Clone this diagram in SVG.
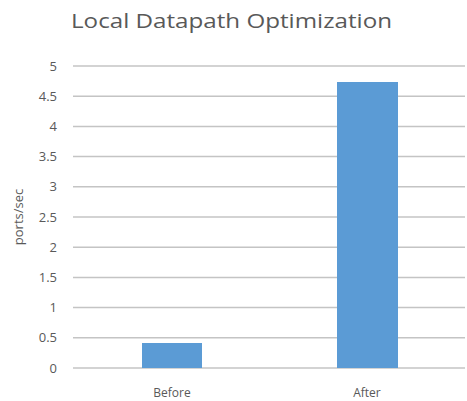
<svg xmlns="http://www.w3.org/2000/svg" width="467" height="401" viewBox="0 0 467 401">
  <style>
    .title { font-family: "Open Sans", "Liberation Sans", sans-serif; font-size: 20px; fill: #595959; }
    .tick { font-family: "Open Sans", "Liberation Sans", sans-serif; font-size: 13px; fill: #595959; text-anchor: end; }
    .cat { font-family: "Open Sans", "Liberation Sans", sans-serif; font-size: 12px; fill: #595959; text-anchor: middle; }
    .axis { font-family: "Open Sans", "Liberation Sans", sans-serif; font-size: 13px; fill: #595959; text-anchor: middle; }
    .grid line { stroke: #c4c4c4; stroke-width: 1.5; }
    .bar { fill: #5b9bd5; }
  </style>
  <rect width="467" height="401" fill="#ffffff"/>
  <text class="title" x="71" y="28" textLength="321" lengthAdjust="spacingAndGlyphs">Local Datapath Optimization</text>

  <!-- horizontal gridlines, 0 to 5 step 0.5 -->
  <g class="grid">
    <line x1="73" y1="66" x2="465" y2="66"/>
    <line x1="73" y1="96.2" x2="465" y2="96.2"/>
    <line x1="73" y1="126.4" x2="465" y2="126.4"/>
    <line x1="73" y1="156.6" x2="465" y2="156.6"/>
    <line x1="73" y1="186.8" x2="465" y2="186.8"/>
    <line x1="73" y1="217" x2="465" y2="217"/>
    <line x1="73" y1="247.2" x2="465" y2="247.2"/>
    <line x1="73" y1="277.4" x2="465" y2="277.4"/>
    <line x1="73" y1="307.6" x2="465" y2="307.6"/>
    <line x1="73" y1="337.8" x2="465" y2="337.8"/>
    <line x1="73" y1="368" x2="465" y2="368"/>
  </g>

  <!-- value axis labels -->
  <g>
    <text class="tick" x="57" y="70.5">5</text>
    <text class="tick" x="57" y="100.7">4.5</text>
    <text class="tick" x="57" y="130.9">4</text>
    <text class="tick" x="57" y="161.1">3.5</text>
    <text class="tick" x="57" y="191.3">3</text>
    <text class="tick" x="57" y="221.5">2.5</text>
    <text class="tick" x="57" y="251.7">2</text>
    <text class="tick" x="57" y="281.9">1.5</text>
    <text class="tick" x="57" y="312.1">1</text>
    <text class="tick" x="57" y="342.3">0.5</text>
    <text class="tick" x="57" y="372.5">0</text>
  </g>
  <text class="axis" transform="translate(23 217) rotate(-90)">ports/sec</text>

  <!-- bars -->
  <g id="bar-before"><rect class="bar" x="142" y="343" width="60" height="25"/></g>
  <g id="bar-after"><rect class="bar" x="337" y="82" width="61" height="286"/></g>

  <!-- category labels -->
  <text class="cat" x="172" y="397">Before</text>
  <text class="cat" x="367" y="397">After</text>
</svg>
